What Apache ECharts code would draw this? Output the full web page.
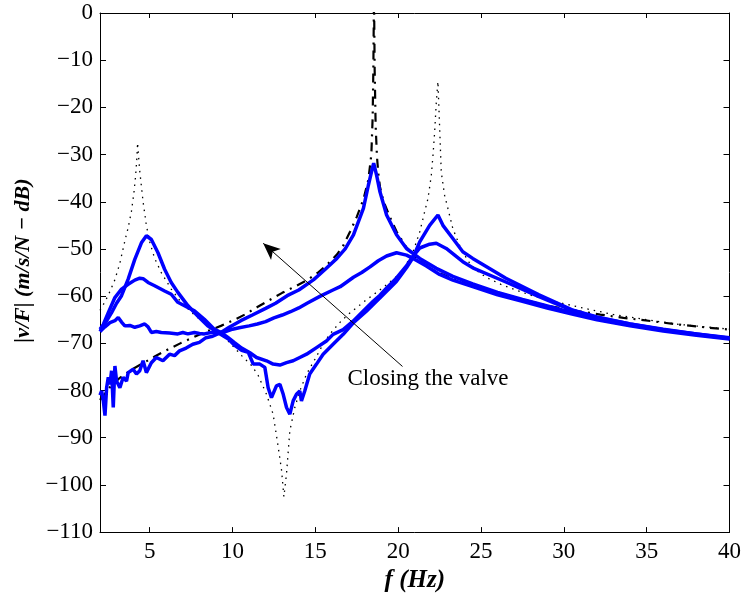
<!DOCTYPE html>
<html>
<head>
<meta charset="utf-8">
<title>Mobility |v/F|</title>
<script src="https://cdn.jsdelivr.net/npm/echarts@6/dist/echarts.min.js"></script>
<style>
  html, body { margin: 0; padding: 0; background: #ffffff; }
  #chart { width: 744px; height: 598px; }
</style>
</head>
<body>
<div id="chart"></div>
<script>
// Axis ticks
const xTicks = [5, 10, 15, 20, 25, 30, 35, 40];
const yTicks = [-110, -100, -90, -80, -70, -60, -50, -40, -30, -20, -10, 0];

// Two-degree-of-freedom model (dotted)
const dottedFreq = [2.0, 2.3, 2.6, 2.9, 3.2, 3.5, 3.7, 3.9, 4.05, 4.15, 4.22, 4.27, 4.33, 4.4, 4.6, 4.8, 5.0, 5.3, 5.7, 6.3,
  6.9, 7.7, 8.5, 9.3, 9.9, 10.55, 11.15, 11.55, 12.05, 12.45, 12.76, 12.96, 13.1, 13.26, 13.46, 13.76, 14.06, 14.47, 14.97, 15.57,
  16.0, 16.5, 17.0, 18.0, 19.0, 19.5, 20.0, 20.4, 20.9, 21.3, 21.6, 21.8, 22.0, 22.1, 22.2, 22.3, 22.4, 22.5, 22.6, 22.8,
  23.0, 23.3, 23.7, 24.2, 24.7, 25.3, 26.2, 27.1, 28.0, 29.0, 29.9, 31.0, 33.0, 35.0, 37.0, 40.0];
const dottedDb = [-63.0, -61.2, -59.0, -56.5, -53.0, -48.3, -45.5, -42.0, -38.0, -34.5, -31.0, -27.5, -30.5, -33.5, -40.0, -45.0, -48.5, -52.0, -55.0, -58.5,
  -61.3, -64.0, -66.2, -68.0, -70.1, -72.6, -74.7, -76.8, -80.8, -85.0, -92.0, -96.9, -102.5, -97.6, -88.5, -83.6, -80.1, -76.5, -73.4, -69.5,
  -67.5, -65.5, -63.8, -61.0, -58.4, -57.0, -55.5, -53.8, -50.6, -46.4, -42.1, -39.3, -34.4, -30.2, -25.3, -19.0, -14.5, -24.0, -33.7, -38.6,
  -41.4, -45.7, -49.2, -52.5, -54.5, -56.0, -57.5, -58.7, -59.8, -60.7, -61.5, -62.4, -63.9, -65.0, -66.0, -67.0];

// Single-degree-of-freedom model (dash-dot), valve closed
const dashFreq = [2.0, 2.6, 3.2, 3.9, 4.6, 5.3, 6.1, 6.9, 7.7, 8.5, 9.3, 10.0, 10.8, 11.5, 12.2, 13.0, 13.8, 14.5, 15.2, 15.8,
  16.3, 16.7, 17.1, 17.5, 17.9, 18.2, 18.38, 18.46, 18.5, 18.54, 18.58, 18.64, 18.72, 18.8, 18.9, 19.1, 19.5, 19.9, 20.5, 21.3,
  22.3, 23.1, 24.6, 26.1, 27.6, 29.1, 30.9, 32.2, 33.6, 35.3, 36.9, 38.5, 40.0];
const dashDb = [-82.0, -79.3, -77.3, -75.6, -74.2, -72.8, -71.3, -69.9, -68.6, -67.4, -66.3, -65.2, -63.8, -62.3, -60.9, -59.3, -57.9, -56.6, -54.9, -53.0,
  -51.2, -49.2, -46.3, -43.2, -39.5, -35.3, -30.0, -22.0, -12.0, 4.0, -12.0, -24.0, -30.5, -34.0, -36.8, -39.8, -43.2, -46.3, -49.7, -52.6,
  -54.9, -56.0, -57.7, -59.3, -60.8, -62.1, -63.2, -63.9, -64.6, -65.3, -66.0, -66.6, -67.1];

// Measured responses (blue), from closed to open valve
const measAFreq = [2.0, 2.1, 2.2, 2.3, 2.4, 2.5, 2.6, 2.7, 2.8, 2.9, 3.0, 3.2, 3.4, 3.6, 3.7, 4.0, 4.2, 4.4, 4.6, 4.8,
  5.1, 5.4, 5.8, 6.2, 6.5, 6.8, 7.2, 7.6, 8.0, 8.4, 8.8, 9.25, 9.8, 10.5, 11.2, 12.0, 12.6, 13.3, 14.0, 14.9,
  15.6, 16.3, 16.8, 17.3, 17.9, 18.2, 18.4, 18.52, 18.7, 18.9, 19.3, 19.9, 20.5, 21.3, 22.3, 23.3, 24.5, 26.0, 27.5, 29.0,
  30.5, 32.0, 34.0, 36.0, 38.0, 40.0];
const measADb = [-81.0, -80.1, -82.2, -85.3, -79.4, -77.2, -78.7, -75.8, -83.6, -74.8, -78.0, -79.4, -77.2, -78.0, -76.2, -75.5, -76.5, -75.8, -73.7, -76.2,
  -74.1, -73.0, -73.7, -72.3, -72.6, -71.6, -71.0, -70.2, -69.8, -68.8, -68.5, -67.8, -66.6, -65.2, -64.0, -62.6, -61.5, -59.9, -58.7, -56.5,
  -54.3, -52.0, -50.0, -47.0, -41.4, -36.5, -33.5, -31.8, -34.4, -37.9, -42.8, -47.0, -49.9, -52.0, -54.1, -55.8, -57.4, -59.2, -60.7, -62.1,
  -63.5, -64.8, -66.1, -67.2, -68.1, -69.0];

const measBFreq = [2.0, 2.3, 2.6, 2.9, 3.1, 3.3, 3.5, 3.8, 4.1, 4.4, 4.7, 4.9, 5.1, 5.4, 5.7, 6.2, 6.7, 7.0, 7.3, 7.7,
  8.0, 8.3, 8.7, 9.1, 9.5, 10.0, 10.4, 11.0, 11.5, 12.0, 12.5, 13.0, 13.5, 14.0, 14.5, 15.3, 16.0, 16.5, 17.3, 17.8,
  18.3, 18.8, 19.3, 19.9, 20.5, 20.9, 21.7, 22.5, 23.3, 24.5, 26.0, 27.5, 29.0, 30.5, 32.0, 34.0, 36.0, 38.0, 40.0];
const measBDb = [-67.5, -66.5, -65.6, -65.2, -64.5, -65.5, -66.3, -66.2, -66.6, -66.3, -65.9, -66.5, -67.7, -67.5, -67.7, -67.8, -68.0, -67.7, -68.0, -67.7,
  -67.9, -68.0, -67.7, -67.7, -67.6, -67.0, -66.7, -66.3, -65.9, -65.4, -64.6, -64.0, -63.3, -62.5, -61.5, -60.0, -58.8, -58.0, -56.0, -55.0,
  -53.8, -52.5, -51.5, -50.8, -51.3, -52.0, -53.6, -55.4, -56.6, -58.0, -59.7, -61.1, -62.5, -63.8, -65.0, -66.3, -67.4, -68.3, -69.1];

const measCFreq = [2.0, 2.2, 2.5, 2.9, 3.3, 3.7, 4.1, 4.4, 4.6, 4.9, 5.3, 5.9, 6.3, 6.7, 7.3, 7.7, 8.3, 8.9, 9.3, 9.7,
  10.1, 10.55, 11.05, 11.45, 12.05, 12.45, 12.86, 13.26, 13.66, 14.06, 14.47, 15.07, 15.67, 16.07, 16.68, 17.28, 17.88, 18.49, 18.9, 19.29,
  19.89, 20.5, 20.9, 21.3, 21.9, 22.3, 22.9, 23.9, 24.5, 26.5, 28.5, 30.5, 32.0, 34.0, 36.0, 38.0, 40.0];
const measCDb = [-67.0, -66.0, -63.5, -60.3, -58.5, -57.5, -56.6, -56.2, -56.3, -57.1, -57.8, -58.9, -59.6, -61.3, -62.4, -63.1, -64.9, -67.0, -67.7, -68.7,
  -69.8, -71.0, -72.0, -73.0, -73.7, -74.4, -74.6, -74.1, -73.7, -73.0, -72.3, -70.9, -69.5, -68.1, -67.1, -65.3, -63.2, -61.1, -59.8, -58.3,
  -56.2, -53.6, -51.5, -49.8, -49.0, -48.8, -49.9, -52.7, -54.0, -57.0, -60.1, -63.0, -64.5, -65.9, -67.1, -68.0, -68.9];

const measDFreq = [2.0, 2.3, 2.7, 3.0, 3.3, 3.7, 4.1, 4.5, 4.8, 5.1, 5.5, 5.9, 6.3, 6.7, 7.3, 7.9, 8.5, 9.1, 9.75, 10.15,
  10.55, 10.95, 11.25, 11.65, 11.95, 12.15, 12.35, 12.65, 12.86, 13.06, 13.26, 13.46, 13.66, 13.86, 14.06, 14.16, 14.36, 14.66, 15.07, 15.47,
  16.07, 16.68, 17.28, 18.08, 18.89, 19.89, 20.5, 20.9, 21.3, 21.9, 22.4, 22.7, 23.3, 23.9, 24.5, 26.5, 28.5, 30.5, 32.0, 34.0,
  36.0, 38.0, 40.0];
const measDDb = [-67.5, -65.8, -63.5, -61.5, -59.9, -56.4, -52.2, -48.7, -47.2, -48.0, -50.8, -54.3, -57.1, -59.2, -62.0, -64.2, -66.3, -67.7, -69.1, -70.5,
  -71.5, -71.9, -74.4, -74.4, -75.1, -79.4, -81.5, -79.0, -78.7, -80.8, -83.6, -85.0, -82.2, -80.8, -80.1, -82.2, -80.1, -76.5, -74.4, -72.3,
  -70.2, -68.1, -65.7, -63.2, -60.4, -56.9, -54.0, -51.8, -48.5, -45.0, -42.8, -45.0, -47.8, -50.6, -52.0, -56.2, -59.7, -62.9, -64.4, -65.9,
  -67.0, -68.0, -68.8];

// Annotation: arrow showing the trend while the valve closes
const valveArrowStart = [20.26, -74.9];
const valveArrowEnd = [11.85, -48.8];
const valveLabelAt = [21.8, -77.6];
const valveLabel = 'Closing the valve';

const FONT = '"Liberation Serif", "Times New Roman", Times, serif';
const BLUE = '#0000ff';

function pairs(xs, ys) {
  return xs.map((x, i) => [x, ys[i]]);
}
const minusSign = v => String(v).replace('-', '\u2212');

const baseAxisLine = { show: true, onZero: false, lineStyle: { color: '#000', width: 1 } };

const chart = echarts.init(document.getElementById('chart'), null, { renderer: 'canvas' });

const option = {
  animation: false,
  backgroundColor: '#ffffff',
  grid: { left: 100, right: 14, top: 13, bottom: 62, containLabel: false },
  xAxis: [
    {
      type: 'value', min: 2, max: 40, position: 'bottom',
      name: 'f (Hz)', nameLocation: 'middle', nameGap: 29,
      nameTextStyle: { fontFamily: FONT, fontSize: 25, fontWeight: 'bold', fontStyle: 'italic', color: '#000' },
      axisLine: baseAxisLine,
      axisTick: { show: true, inside: true, length: 5, customValues: xTicks, lineStyle: { color: '#000', width: 1 } },
      axisLabel: { show: true, customValues: xTicks, fontFamily: FONT, fontSize: 23, color: '#000', margin: 8 },
      splitLine: { show: false }
    },
    {
      type: 'value', min: 2, max: 40, position: 'top',
      axisLine: baseAxisLine,
      axisTick: { show: true, inside: true, length: 5, customValues: xTicks, lineStyle: { color: '#000', width: 1 } },
      axisLabel: { show: false },
      splitLine: { show: false }
    }
  ],
  yAxis: [
    {
      type: 'value', min: -110, max: 0, interval: 10, position: 'left',
      name: '|v/F| (m/s/N \u2212 dB)', nameLocation: 'middle', nameGap: 58, nameRotate: 90,
      nameTextStyle: { fontFamily: FONT, fontSize: 22, fontWeight: 'bold', fontStyle: 'italic', color: '#000', padding: [0, 0, 0, 24] },
      axisLine: baseAxisLine,
      axisTick: { show: true, inside: true, length: 6, lineStyle: { color: '#000', width: 1 } },
      axisLabel: { show: true, fontFamily: FONT, fontSize: 23, color: '#000', margin: 7, formatter: minusSign },
      splitLine: { show: false }
    },
    {
      type: 'value', min: -110, max: 0, interval: 10, position: 'right',
      axisLine: baseAxisLine,
      axisTick: { show: true, inside: true, length: 6, lineStyle: { color: '#000', width: 1 } },
      axisLabel: { show: false },
      splitLine: { show: false }
    }
  ],
  series: [
    {
      name: '2-DOF model', type: 'line', xAxisIndex: 0, yAxisIndex: 0,
      data: pairs(dottedFreq, dottedDb), showSymbol: false, clip: true,
      lineStyle: { color: '#000', width: 1.3, type: [1.5, 5] }
    },
    {
      name: '1-DOF model', type: 'line', xAxisIndex: 0, yAxisIndex: 0,
      data: pairs(dashFreq, dashDb), showSymbol: false, clip: true,
      lineStyle: { color: '#000', width: 2.2, type: [9, 6, 2, 6] }
    },
    {
      name: 'measured A', type: 'line', data: pairs(measAFreq, measADb), showSymbol: false, clip: true,
      lineStyle: { color: BLUE, width: 3.5 }
    },
    {
      name: 'measured B', type: 'line', data: pairs(measBFreq, measBDb), showSymbol: false, clip: true,
      lineStyle: { color: BLUE, width: 3.5 }
    },
    {
      name: 'measured C', type: 'line', data: pairs(measCFreq, measCDb), showSymbol: false, clip: true,
      lineStyle: { color: BLUE, width: 3.5 }
    },
    {
      name: 'measured D', type: 'line', data: pairs(measDFreq, measDDb), showSymbol: false, clip: true,
      lineStyle: { color: BLUE, width: 3.5 },
      markLine: {
        silent: true, animation: false,
        symbol: ['none', 'arrow'], symbolSize: [11, 17],
        lineStyle: { color: '#000', width: 1, type: 'solid' },
        label: { show: false },
        data: [[{ coord: valveArrowStart }, { coord: valveArrowEnd }]]
      },
      markPoint: {
        silent: true, animation: false,
        data: [{
          coord: valveLabelAt, symbol: 'rect', symbolSize: [1, 1],
          itemStyle: { color: 'rgba(0,0,0,0)' },
          label: { show: true, position: 'inside', formatter: valveLabel, fontFamily: FONT, fontSize: 23, color: '#000' }
        }]
      }
    }
  ]
};

chart.setOption(option);
</script>
</body>
</html>
